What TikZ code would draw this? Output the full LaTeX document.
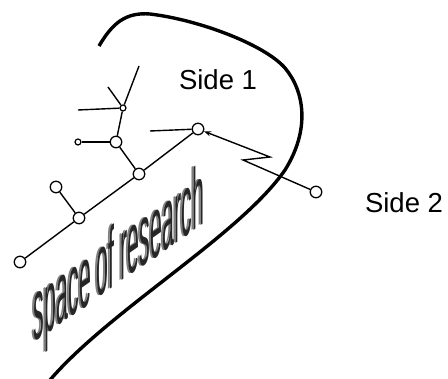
\documentclass[tikz,border=0pt]{standalone}
\usepackage{fontspec}
\setmainfont{Liberation Sans}
\usetikzlibrary{arrows.meta}
\begin{document}
\begin{tikzpicture}[x=1pt,y=-1pt,
  big/.style={circle,draw,fill=white,line width=1.3pt,minimum size=11.5pt,inner sep=0pt},
  small/.style={circle,draw,fill=white,line width=1.2pt,minimum size=6pt,inner sep=0pt},
  edge/.style={line width=1.4pt},
  bound/.style={line width=3.4pt,line cap=butt},
  lbl/.style={font=\fontsize{27.5}{30}\selectfont, inner sep=0pt, anchor=base},
  wordart/.style={transform shape, anchor=base west, inner sep=0pt, font=\fontsize{10}{12}\selectfont}]
\useasboundingbox (0,0) rectangle (448,379);
% slanted text
\begin{scope}[shift={(31.5,343)}, yslant=0.7, xscale=2.14, yscale=8.7]
  \node[wordart, text=gray] (srs) at (0,0) {space of research};
\end{scope}
\begin{scope}[shift={(33.5,343)}, yslant=0.7, xscale=2.14, yscale=8.7]
  \node[wordart, text=black!85] (sr) at (0,0) {space of research};
\end{scope}
% boundary curve
\draw[bound] (99,46) .. controls (112,24) and (125,12) .. (150,14)
  .. controls (200,20) and (265,45) .. (285,68)
  .. controls (305,92) and (310,130) .. (285,170)
  .. controls (240,235) and (110,310) .. (50,380);
% labels
\node[lbl] (s1) at (218,90) {Side 1};
\node[lbl] (s2) at (404,213) {Side 2};
% nodes
\node[big] (A) at (20,262) {};
\node[big] (B) at (79,218) {};
\node[big] (C) at (56,187) {};
\node[big] (D) at (139,174) {};
\node[big] (E) at (116,142) {};
\node[small] (F) at (78,142) {};
\node[small] (G) at (123,108) {};
\node[big] (H) at (198,129) {};
\node[big] (I) at (316,192) {};
\coordinate (g1) at (139,66);
\coordinate (g2) at (108,87);
\coordinate (g3) at (78,110);
\coordinate (h1) at (150,131);
\coordinate (z1) at (270,157);
\coordinate (z2) at (243,160);
% edges
\draw[edge] (A) -- (B);
\draw[edge] (B) -- (D);
\draw[edge] (D) -- (H);
\draw[edge] (B) -- (C);
\draw[edge] (D) -- (E);
\draw[edge] (E) -- (F);
\draw[edge] (E) -- (G);
\draw[edge] (G) -- (g1);
\draw[edge] (G) -- (g2);
\draw[edge] (G) -- (g3);
\draw[edge] (H) -- (h1);
\draw[edge, -{Stealth[length=7pt,width=5pt]}] (I) -- (z2) -- (z1) -- (H);
\end{tikzpicture}
\end{document}
